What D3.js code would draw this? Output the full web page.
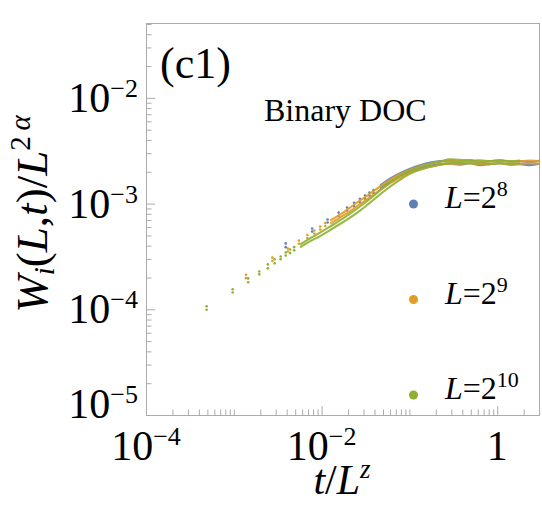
<!DOCTYPE html>
<html>
<head>
<meta charset="utf-8">
<script src="https://cdn.jsdelivr.net/npm/d3@7"></script>
<style>
body { margin: 0; background: #fff; }
text { font-family: "Liberation Serif", "Times New Roman", serif; fill: #000; }
</style>
</head>
<body>
<svg id="chart" width="542" height="525"></svg>
<script>
// L = 2^n for each series
var seriesExp = ["8", "9", "10"];
var seriesColors = ["#5e81b5", "#e19c24", "#8fb032"];

// early times, two curves (upper / lower) per L
var t8 = [3.9e-3, 7.8e-3, 1.17e-2, 1.56e-2, 1.95e-2, 2.34e-2, 2.73e-2, 3.12e-2, 3.51e-2, 3.9e-2];
var w8hi = [4.20e-4, 5.81e-4, 7.06e-4, 8.22e-4, 9.17e-4, 1.02e-3, 1.11e-3, 1.19e-3, 1.27e-3, 1.34e-3];
var w8lo = [3.87e-4, 5.45e-4, 6.62e-4, 7.62e-4, 8.59e-4, 9.46e-4, 1.03e-3, 1.11e-3, 1.19e-3, 1.26e-3];

var t9 = [1.38e-3, 2.75e-3, 4.13e-3, 5.51e-3, 6.89e-3, 8.26e-3, 9.64e-3, 1.10e-2];
var w9hi = [2.12e-4, 3.08e-4, 3.76e-4, 4.48e-4, 5.05e-4, 5.56e-4, 6.07e-4, 6.55e-4];
var w9lo = [1.97e-4, 2.86e-4, 3.52e-4, 4.17e-4, 4.73e-4, 5.21e-4, 5.69e-4, 6.14e-4];

var t10 = [4.9e-4, 9.7e-4, 1.46e-3, 1.95e-3, 2.44e-3, 2.92e-3, 3.41e-3, 3.9e-3, 4.38e-3, 4.87e-3];
var w10hi = [1.07e-4, 1.55e-4, 1.96e-4, 2.28e-4, 2.66e-4, 2.97e-4, 3.16e-4, 3.45e-4, 3.68e-4, 3.87e-4];
var w10lo = [9.9e-5, 1.44e-4, 1.80e-4, 2.14e-4, 2.44e-4, 2.72e-4, 2.97e-4, 3.23e-4, 3.40e-4, 3.61e-4];

// later times, where the points are so dense they merge into bands
var tBand = [5.68e-3, 7.38e-3, 9.6e-3, 1.25e-2, 1.62e-2, 2.11e-2, 2.74e-2, 3.56e-2, 4.62e-2, 6.01e-2,
             7.82e-2, 0.102, 0.132, 0.172, 0.223, 0.290, 0.377, 0.490, 0.637, 0.828,
             1.08, 1.40, 1.82, 2.36, 3.07];

var band8hi = [1.48e-3, 1.72e-3, 1.94e-3, 2.14e-3, 2.31e-3, 2.44e-3, 2.52e-3, 2.55e-3, 2.49e-3, 2.57e-3,
               2.47e-3, 2.52e-3, 2.57e-3, 2.49e-3, 2.52e-3, 2.47e-3, 2.55e-3];
var band8lo = [1.39e-3, 1.61e-3, 1.82e-3, 2.00e-3, 2.16e-3, 2.28e-3, 2.36e-3, 2.38e-3, 2.33e-3, 2.41e-3,
               2.31e-3, 2.36e-3, 2.41e-3, 2.33e-3, 2.36e-3, 2.31e-3, 2.38e-3];

var band9hi = [6.92e-4, 7.87e-4, 9.17e-4, 1.07e-3, 1.24e-3, 1.45e-3, 1.68e-3, 1.90e-3, 2.09e-3, 2.26e-3,
               2.38e-3, 2.49e-3, 2.55e-3, 2.52e-3, 2.55e-3, 2.49e-3, 2.52e-3, 2.55e-3, 2.49e-3, 2.52e-3,
               2.55e-3, 2.52e-3];
var band9lo = [6.47e-4, 7.38e-4, 8.49e-4, 9.89e-4, 1.15e-3, 1.34e-3, 1.56e-3, 1.76e-3, 1.96e-3, 2.11e-3,
               2.23e-3, 2.33e-3, 2.38e-3, 2.38e-3, 2.41e-3, 2.36e-3, 2.38e-3, 2.41e-3, 2.36e-3, 2.38e-3,
               2.41e-3, 2.38e-3];

var band10hi = [4.10e-4, 4.68e-4, 5.32e-4, 6.07e-4, 6.92e-4, 8.05e-4, 9.38e-4, 1.11e-3, 1.33e-3, 1.58e-3,
                1.84e-3, 2.05e-3, 2.23e-3, 2.38e-3, 2.49e-3, 2.62e-3, 2.60e-3, 2.55e-3, 2.57e-3, 2.52e-3,
                2.55e-3, 2.52e-3, 2.55e-3];
var band10lo = [3.85e-4, 4.39e-4, 4.93e-4, 5.62e-4, 6.41e-4, 7.38e-4, 8.59e-4, 1.02e-3, 1.22e-3, 1.45e-3,
                1.68e-3, 1.92e-3, 2.09e-3, 2.23e-3, 2.33e-3, 2.44e-3, 2.44e-3, 2.41e-3, 2.41e-3, 2.38e-3,
                2.41e-3, 2.38e-3, 2.41e-3];

var yTickVals = [1e-5, 1e-4, 1e-3, 1e-2];
var yTickExp = ["\u22125", "\u22124", "\u22123", "\u22122"];
var xTickVals = [1e-4, 1e-2, 1];
var xTickExp = ["\u22124", "\u22122", ""];

var svg = d3.select("#chart");
var pLeft = 146, pRight = 540, pTop = 24, pBottom = 415;
var frameColor = "#ababab";

var x = d3.scaleLog().domain([1e-4, 3.07]).range([pLeft, pRight]);
var y = d3.scaleLog().domain([1e-5, 5e-2]).range([pBottom, pTop]);

svg.append("defs").append("clipPath").attr("id", "plotclip")
	.append("rect")
	.attr("x", pLeft).attr("y", pTop)
	.attr("width", pRight - pLeft).attr("height", pBottom - pTop);

// ticks (inside frame)
var yMinor = [], yMajor = [];
for (var e = -5; e <= -2; e++) {
	for (var k = 1; k <= 9; k++) {
		var v = k * Math.pow(10, e);
		if (v > 5e-2) continue;
		if (k == 1) yMajor.push(v); else yMinor.push(v);
	}
}
var xMinor = [], xMajor = [];
for (var e = -4; e <= 0; e++) {
	for (var k = 1; k <= 9; k++) {
		var v = k * Math.pow(10, e);
		if (v > 3.05) continue;
		if (k == 1 && e % 2 == 0) xMajor.push(v); else xMinor.push(v);
	}
}

function styleAxis(g) {
	g.select(".domain").remove();
	g.selectAll("line").attr("stroke", frameColor).attr("stroke-width", 1);
}

svg.append("g").attr("transform", "translate(" + pLeft + ",0)")
	.call(d3.axisLeft(y).tickValues(yMinor).tickSize(-5.5).tickFormat(""))
	.call(styleAxis);
svg.append("g").attr("transform", "translate(" + pLeft + ",0)")
	.call(d3.axisLeft(y).tickValues(yMajor).tickSize(-9).tickFormat(""))
	.call(styleAxis);
svg.append("g").attr("transform", "translate(0," + pBottom + ")")
	.call(d3.axisBottom(x).tickValues(xMinor).tickSize(-5.5).tickFormat(""))
	.call(styleAxis);
svg.append("g").attr("transform", "translate(0," + pBottom + ")")
	.call(d3.axisBottom(x).tickValues(xMajor).tickSize(-9).tickFormat(""))
	.call(styleAxis);

// frame
svg.append("rect")
	.attr("x", pLeft + 0.5).attr("y", pTop - 0.5)
	.attr("width", pRight - pLeft - 1).attr("height", pBottom - pTop + 1)
	.attr("fill", "none")
	.attr("stroke", frameColor)
	.attr("stroke-width", 1);

// tick labels
yTickVals.forEach(function(v, i) {
	var t = svg.append("text")
		.attr("x", 138)
		.attr("y", Math.min(y(v) + 14, 418))
		.attr("text-anchor", "end")
		.style("font-size", "42px");
	t.append("tspan").text("10");
	t.append("tspan").attr("dy", -15).style("font-size", "26px").text(yTickExp[i]);
});

xTickVals.forEach(function(v, i) {
	var t = svg.append("text")
		.attr("x", x(v))
		.attr("y", 460)
		.attr("text-anchor", "middle")
		.style("font-size", "42px");
	if (xTickExp[i] == "") {
		t.text("1");
	} else {
		t.append("tspan").text("10");
		t.append("tspan").attr("dy", -15).style("font-size", "26px").text(xTickExp[i]);
	}
});

// axis titles
var xt = svg.append("text")
	.attr("x", 342).attr("y", 494)
	.attr("text-anchor", "middle")
	.style("font-size", "42px");
xt.append("tspan").style("font-style", "italic").text("t");
xt.append("tspan").text("/");
xt.append("tspan").style("font-style", "italic").text("L");
xt.append("tspan").attr("dy", -16).style("font-style", "italic").style("font-size", "27px").text("z");

var yt = svg.append("text")
	.attr("transform", "translate(47,214) rotate(-90)")
	.attr("text-anchor", "middle")
	.style("font-size", "45px");
yt.append("tspan").style("font-style", "italic").text("W");
yt.append("tspan").attr("dy", 7).style("font-style", "italic").style("font-size", "29px").text("i");
yt.append("tspan").attr("dy", -7).text("(");
yt.append("tspan").style("font-style", "italic").text("L");
yt.append("tspan").text(",");
yt.append("tspan").style("font-style", "italic").text("t");
yt.append("tspan").text(")/");
yt.append("tspan").style("font-style", "italic").text("L");
yt.append("tspan").attr("dy", -17).style("font-size", "29px").text("2\u2009");
yt.append("tspan").style("font-style", "italic").style("font-size", "29px").text("\u03b1");

// panel label and title
svg.append("text")
	.attr("x", 160).attr("y", 78)
	.style("font-size", "44px")
	.text("(c1)");

svg.append("text")
	.attr("x", 264).attr("y", 121)
	.style("font-size", "32px")
	.text("Binary DOC");

// data
var plot = svg.append("g").attr("clip-path", "url(#plotclip)");

var series = [
	{ t: t8, hi: w8hi, lo: w8lo, bt: tBand.slice(8), bhi: band8hi, blo: band8lo },
	{ t: t9, hi: w9hi, lo: w9lo, bt: tBand.slice(3), bhi: band9hi, blo: band9lo },
	{ t: t10, hi: w10hi, lo: w10lo, bt: tBand.slice(0, 23), bhi: band10hi, blo: band10lo }
];

var line = d3.line()
	.x(function(d) { return x(d[0]); })
	.y(function(d) { return y(d[1]); })
	.curve(d3.curveMonotoneX);

series.forEach(function(s, i) {
	var g = plot.append("g").attr("class", "series-" + i);
	[s.bhi, s.blo].forEach(function(w) {
		g.append("path")
			.datum(s.bt.map(function(tv, j) { return [tv, w[j]]; }))
			.attr("d", line)
			.attr("fill", "none")
			.attr("stroke", seriesColors[i])
			.attr("stroke-width", 2.1)
			.attr("opacity", 0.9);
	});
	var pts = s.t.map(function(tv, j) { return [tv, s.hi[j]]; })
		.concat(s.t.map(function(tv, j) { return [tv, s.lo[j]]; }));
	g.selectAll("circle")
		.data(pts)
		.enter()
		.append("circle")
		.attr("cx", function(d) { return x(d[0]); })
		.attr("cy", function(d) { return y(d[1]); })
		.attr("r", 1.3)
		.attr("fill", seriesColors[i]);
});

// legend
var legend = svg.append("g");
seriesExp.forEach(function(n, i) {
	var ly = 204 + i * 95.5;
	legend.append("circle")
		.attr("cx", 413.5).attr("cy", ly)
		.attr("r", 4.5)
		.attr("fill", seriesColors[i]);
	var t = legend.append("text")
		.attr("x", 445).attr("y", ly + 4)
		.style("font-size", "32px");
	t.append("tspan").style("font-style", "italic").text("L");
	t.append("tspan").text("=2");
	t.append("tspan").attr("dy", -12).style("font-size", "22px").text(n);
});
</script>
</body>
</html>
